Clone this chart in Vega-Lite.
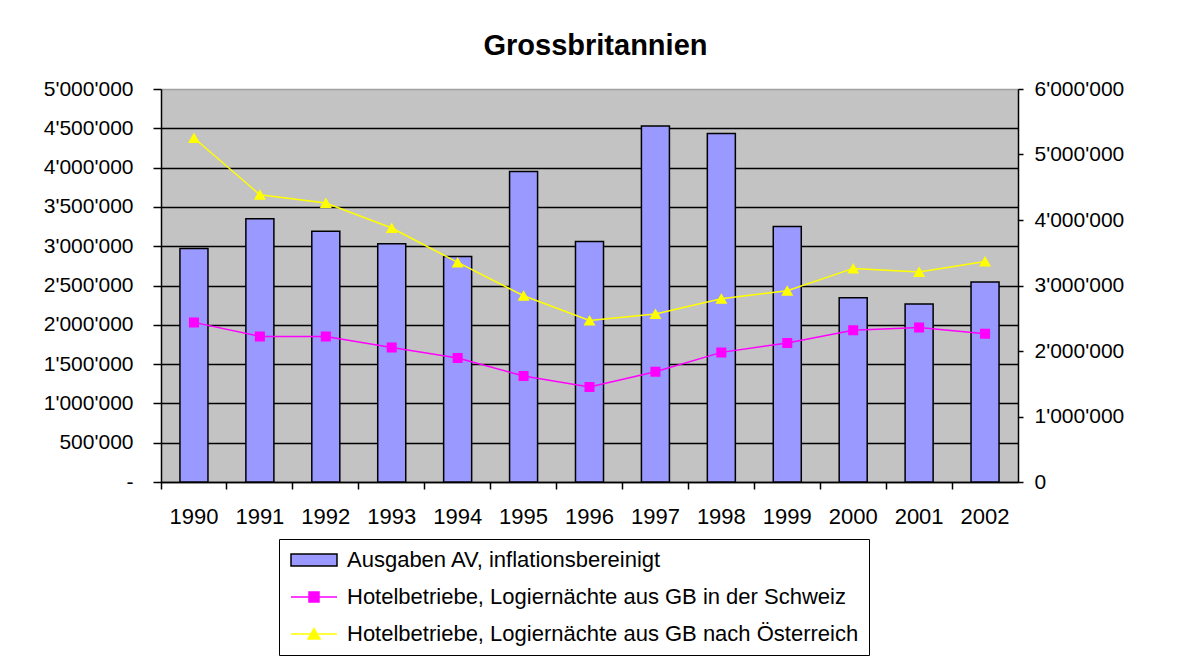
{
  "$schema": "https://vega.github.io/schema/vega-lite/v6.json",
  "width": 857,
  "height": 393,
  "autosize": {"type": "none"},
  "padding": {"left": 161, "top": 89, "right": 166, "bottom": 175},
  "background": "white",
  "title": {"text": "Grossbritannien", "fontSize": 29, "fontWeight": "bold", "font": "Liberation Sans", "color": "black", "anchor": "middle", "frame": "group", "offset": 17, "dx": 6},
  "data": {"values": [
    {"Jahr": "1990", "Serie": "Ausgaben AV, inflationsbereinigt", "Wert": 2970000},
    {"Jahr": "1991", "Serie": "Ausgaben AV, inflationsbereinigt", "Wert": 3350000},
    {"Jahr": "1992", "Serie": "Ausgaben AV, inflationsbereinigt", "Wert": 3190000},
    {"Jahr": "1993", "Serie": "Ausgaben AV, inflationsbereinigt", "Wert": 3030000},
    {"Jahr": "1994", "Serie": "Ausgaben AV, inflationsbereinigt", "Wert": 2870000},
    {"Jahr": "1995", "Serie": "Ausgaben AV, inflationsbereinigt", "Wert": 3950000},
    {"Jahr": "1996", "Serie": "Ausgaben AV, inflationsbereinigt", "Wert": 3060000},
    {"Jahr": "1997", "Serie": "Ausgaben AV, inflationsbereinigt", "Wert": 4530000},
    {"Jahr": "1998", "Serie": "Ausgaben AV, inflationsbereinigt", "Wert": 4435000},
    {"Jahr": "1999", "Serie": "Ausgaben AV, inflationsbereinigt", "Wert": 3250000},
    {"Jahr": "2000", "Serie": "Ausgaben AV, inflationsbereinigt", "Wert": 2345000},
    {"Jahr": "2001", "Serie": "Ausgaben AV, inflationsbereinigt", "Wert": 2265000},
    {"Jahr": "2002", "Serie": "Ausgaben AV, inflationsbereinigt", "Wert": 2545000},
    {"Jahr": "1990", "Serie": "Hotelbetriebe, Logiernächte aus GB in der Schweiz", "Wert": 2437000},
    {"Jahr": "1991", "Serie": "Hotelbetriebe, Logiernächte aus GB in der Schweiz", "Wert": 2223000},
    {"Jahr": "1992", "Serie": "Hotelbetriebe, Logiernächte aus GB in der Schweiz", "Wert": 2223000},
    {"Jahr": "1993", "Serie": "Hotelbetriebe, Logiernächte aus GB in der Schweiz", "Wert": 2055000},
    {"Jahr": "1994", "Serie": "Hotelbetriebe, Logiernächte aus GB in der Schweiz", "Wert": 1893000},
    {"Jahr": "1995", "Serie": "Hotelbetriebe, Logiernächte aus GB in der Schweiz", "Wert": 1618000},
    {"Jahr": "1996", "Serie": "Hotelbetriebe, Logiernächte aus GB in der Schweiz", "Wert": 1450000},
    {"Jahr": "1997", "Serie": "Hotelbetriebe, Logiernächte aus GB in der Schweiz", "Wert": 1684000},
    {"Jahr": "1998", "Serie": "Hotelbetriebe, Logiernächte aus GB in der Schweiz", "Wert": 1979000},
    {"Jahr": "1999", "Serie": "Hotelbetriebe, Logiernächte aus GB in der Schweiz", "Wert": 2122000},
    {"Jahr": "2000", "Serie": "Hotelbetriebe, Logiernächte aus GB in der Schweiz", "Wert": 2315000},
    {"Jahr": "2001", "Serie": "Hotelbetriebe, Logiernächte aus GB in der Schweiz", "Wert": 2360000},
    {"Jahr": "2002", "Serie": "Hotelbetriebe, Logiernächte aus GB in der Schweiz", "Wert": 2264000},
    {"Jahr": "1990", "Serie": "Hotelbetriebe, Logiernächte aus GB nach Österreich", "Wert": 5252000},
    {"Jahr": "1991", "Serie": "Hotelbetriebe, Logiernächte aus GB nach Österreich", "Wert": 4386000},
    {"Jahr": "1992", "Serie": "Hotelbetriebe, Logiernächte aus GB nach Österreich", "Wert": 4259000},
    {"Jahr": "1993", "Serie": "Hotelbetriebe, Logiernächte aus GB nach Österreich", "Wert": 3878000},
    {"Jahr": "1994", "Serie": "Hotelbetriebe, Logiernächte aus GB nach Österreich", "Wert": 3353000},
    {"Jahr": "1995", "Serie": "Hotelbetriebe, Logiernächte aus GB nach Österreich", "Wert": 2844000},
    {"Jahr": "1996", "Serie": "Hotelbetriebe, Logiernächte aus GB nach Österreich", "Wert": 2467000},
    {"Jahr": "1997", "Serie": "Hotelbetriebe, Logiernächte aus GB nach Österreich", "Wert": 2565000},
    {"Jahr": "1998", "Serie": "Hotelbetriebe, Logiernächte aus GB nach Österreich", "Wert": 2798000},
    {"Jahr": "1999", "Serie": "Hotelbetriebe, Logiernächte aus GB nach Österreich", "Wert": 2921000},
    {"Jahr": "2000", "Serie": "Hotelbetriebe, Logiernächte aus GB nach Österreich", "Wert": 3261000},
    {"Jahr": "2001", "Serie": "Hotelbetriebe, Logiernächte aus GB nach Österreich", "Wert": 3206000},
    {"Jahr": "2002", "Serie": "Hotelbetriebe, Logiernächte aus GB nach Österreich", "Wert": 3368000}
  ]},
  "layer": [
    {
      "transform": [{"filter": "datum.Serie === 'Ausgaben AV, inflationsbereinigt'"}],
      "mark": {"type": "bar", "width": {"band": 0.425}, "fill": "#9999ff", "stroke": "black", "strokeWidth": 1.5, "opacity": 1},
      "encoding": {
        "x": {"field": "Jahr", "type": "ordinal", "scale": {"type": "band", "paddingInner": 0, "paddingOuter": 0},
          "axis": {"orient": "bottom", "title": null, "ticks": false, "tickSize": 0, "domain": true, "domainColor": "black", "domainWidth": 1.5, "labelAngle": 0, "labelFont": "Liberation Sans", "labelFontSize": 22, "labelColor": "black", "labelPadding": 24, "grid": false}},
        "y": {"field": "Wert", "type": "quantitative", "scale": {"domain": [0, 5000000], "nice": false},
          "axis": {"orient": "left", "title": null, "values": [0, 500000, 1000000, 1500000, 2000000, 2500000, 3000000, 3500000, 4000000, 4500000, 5000000],
            "labelExpr": "datum.value == 0 ? '-' : replace(format(datum.value, ','), /,/g, \"'\")",
            "grid": true, "gridColor": {"condition": {"test": "datum.value >= 5000000", "value": "#a0a0a0"}, "value": "black"}, "gridWidth": 1.3,
            "domainColor": "black", "domainWidth": 1.5, "tickColor": "black", "tickWidth": 1.5, "tickSize": 8,
            "labelFont": "Liberation Sans", "labelFontSize": 21, "labelColor": "black", "labelPadding": 20}}
      }
    },
    {
      "transform": [{"filter": "datum.Serie !== 'Ausgaben AV, inflationsbereinigt'"}],
      "encoding": {
        "x": {"field": "Jahr", "type": "ordinal",
          "axis": {"orient": "bottom", "title": null, "labels": false, "domain": false, "ticks": true, "bandPosition": 0, "tickSize": 7, "tickColor": "black", "tickWidth": 1.5, "grid": false}},
        "y": {"field": "Wert", "type": "quantitative", "scale": {"domain": [0, 6000000], "nice": false},
          "axis": {"orient": "right", "title": null, "values": [0, 1000000, 2000000, 3000000, 4000000, 5000000, 6000000],
            "labelExpr": "replace(format(datum.value, ','), /,/g, \"'\")",
            "grid": false, "domainColor": "black", "domainWidth": 1.5, "tickColor": "black", "tickWidth": 1.5, "tickSize": 5,
            "labelFont": "Liberation Sans", "labelFontSize": 21, "labelColor": "black", "labelPadding": 11}}
      },
      "layer": [
        {
          "mark": {"type": "line", "strokeWidth": 1.5},
          "encoding": {
            "detail": {"field": "Serie", "type": "nominal"},
            "stroke": {"condition": {"test": "datum.Serie === 'Hotelbetriebe, Logiernächte aus GB in der Schweiz'", "value": "#ff00ff"}, "value": "#ffff00"}
          }
        },
        {
          "mark": {"type": "point", "filled": true, "size": 400, "opacity": 1},
          "encoding": {
            "color": {"field": "Serie", "type": "nominal",
              "scale": {"domain": ["Ausgaben AV, inflationsbereinigt", "Hotelbetriebe, Logiernächte aus GB in der Schweiz", "Hotelbetriebe, Logiernächte aus GB nach Österreich"], "range": ["#9999ff", "#ff00ff", "#ffff00"]},
              "legend": {"orient": "none", "legendX": 118, "legendY": 450, "title": null, "direction": "vertical", "strokeColor": "black", "fillColor": "white", "padding": 10, "labelFont": "Liberation Sans", "labelFontSize": 22, "labelColor": "black", "labelLimit": 800, "symbolSize": 400, "rowPadding": 15, "symbolOffset": 14, "labelOffset": 22,
                "encoding": {"symbols": {
                  "stroke": {"condition": [{"test": "datum.value === 'Ausgaben AV, inflationsbereinigt'", "value": "black"}, {"test": "datum.value === 'Hotelbetriebe, Logiernächte aus GB in der Schweiz'", "value": "#ff00ff"}], "value": "#ffff00"},
                  "strokeWidth": {"value": 1.5}, "opacity": {"value": 1}}}}},
            "shape": {"field": "Serie", "type": "nominal",
              "scale": {"domain": ["Ausgaben AV, inflationsbereinigt", "Hotelbetriebe, Logiernächte aus GB in der Schweiz", "Hotelbetriebe, Logiernächte aus GB nach Österreich"],
                "range": ["M -2.3 -0.6 H 2.3 V 0.6 H -2.3 Z", "M -2.3 0 H 2.3 M -0.5 -0.5 H 0.5 V 0.5 H -0.5 Z", "M -2.3 0 H 2.3 M 0 -0.55 L 0.6 0.5 L -0.6 0.5 Z"]},
              "legend": {"orient": "none", "legendX": 118, "legendY": 450, "title": null, "direction": "vertical", "strokeColor": "black", "fillColor": "white", "padding": 10, "labelFont": "Liberation Sans", "labelFontSize": 22, "labelColor": "black", "labelLimit": 800, "symbolSize": 400, "rowPadding": 15, "symbolOffset": 14, "labelOffset": 22,
                "encoding": {"symbols": {
                  "stroke": {"condition": [{"test": "datum.value === 'Ausgaben AV, inflationsbereinigt'", "value": "black"}, {"test": "datum.value === 'Hotelbetriebe, Logiernächte aus GB in der Schweiz'", "value": "#ff00ff"}], "value": "#ffff00"},
                  "strokeWidth": {"value": 1.5}, "opacity": {"value": 1}}}}}
          }
        }
      ]
    }
  ],
  "resolve": {"scale": {"y": "independent"}, "axis": {"x": "independent"}},
  "config": {
    "view": {"fill": "#c3c3c3", "stroke": "#a0a0a0", "strokeWidth": 1},
    "font": "Liberation Sans"
  }
}
